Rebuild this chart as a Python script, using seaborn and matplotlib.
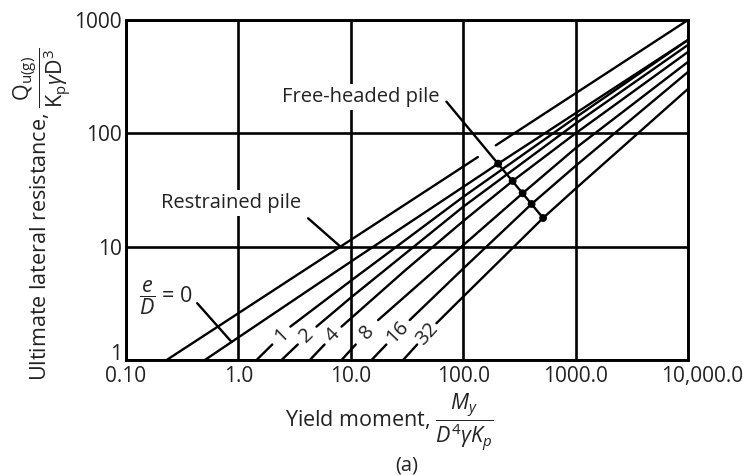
import numpy as np
import pandas as pd
import matplotlib
matplotlib.use("Agg")
import matplotlib.pyplot as plt
import matplotlib.transforms as mtransforms
import seaborn as sns

# Broms' chart: ultimate lateral resistance of long piles in granular soil

X_TICKS = [0.1, 1, 10, 100, 1000, 10000]
X_TICK_LABELS = ["0.10", "1.0", "10.0", "100.0", "1000.0", "10,000.0"]
Y_TICKS = [1, 10, 100, 1000]
Y_TICK_LABELS = ["1", "10", "100", "1000"]

# restrained (fixed-head) pile
RESTRAINED_M = [0.23, 10000]
RESTRAINED_Q = [1, 1000]
RESTRAINED_GAP_M = (135, 195)  # break where the free-headed leader passes

# free-headed piles, one curve per e/D
E_OVER_D = [0, 1, 2, 4, 8, 16, 32]
FREE_M = {
    0: [0.503, 10, 204.6, 10000],
    1: [1.45, 2.9, 10, 100, 1000, 10000],
    2: [2.42, 4.95, 10, 100, 1000, 10000],
    4: [4.32, 8.27, 30, 100, 275.4, 1000, 10000],
    8: [8.27, 17.5, 100, 338, 1000, 10000],
    16: [15.3, 33.4, 100, 406, 1000, 10000],
    32: [29.2, 57.8, 100, 514, 1000, 10000],
}
FREE_Q = {
    0: [1, 7.37, 54, 667],
    1: [1, 1.97, 5.0, 27.5, 138, 667],
    2: [1, 1.97, 3.55, 22.5, 122, 603],
    4: [1, 1.97, 6.1, 16.8, 38, 100, 523],
    8: [1, 2.25, 10.3, 29.6, 74, 427],
    16: [1, 2.25, 6.4, 23.8, 51.6, 348],
    32: [1, 2.11, 3.62, 17.9, 32.5, 246.6],
}
LABEL_GAP_Q_LOW = 1.37  # curves 1..32 break between this and their second point

# marked points on the free-headed leader
DOT_E = [0, 4, 8, 16, 32]
DOT_M = [204.6, 275.4, 338, 406, 514]

# annotation anchors (data coordinates)
RESTRAINED_TEXT_AT = (0.854, 24.3)
RESTRAINED_LEADER_FROM = (4.17, 17.8)
RESTRAINED_LEADER_Q = 10
FREE_TEXT_AT = (61.8, 210)
FREE_LEADER_FROM = (70.9, 190.5)
E0_TEXT_AT = (0.2245, 3.53)
E0_LEADER_FROM = (0.43, 3.17)
E0_LEADER_M = 0.87

FS = 14.5      # annotations and curve labels
FS_TICK = 15
FS_AXIS = 15.5
INK = "#222222"
LW = 1.7

sns.set_theme(style="white")
plt.rcParams["font.family"] = ["Open Sans", "DejaVu Sans"]
plt.rcParams["mathtext.fontset"] = "custom"
plt.rcParams["mathtext.rm"] = "Open Sans"
plt.rcParams["mathtext.it"] = "Open Sans:italic"
plt.rcParams["mathtext.bf"] = "Open Sans:bold"


def q_at(m, M, Q):
    return 10 ** np.interp(np.log10(m), np.log10(M), np.log10(Q))


def m_at(q, M, Q):
    return 10 ** np.interp(np.log10(q), np.log10(Q), np.log10(M))


def split(M, Q, m_lo, m_hi):
    lo = [(m, q) for m, q in zip(M, Q) if m < m_lo] + [(m_lo, q_at(m_lo, M, Q))]
    hi = [(m_hi, q_at(m_hi, M, Q))] + [(m, q) for m, q in zip(M, Q) if m > m_hi]
    return lo, hi


fig = plt.figure(figsize=(7.43, 4.75), dpi=100)
ax = fig.add_axes([126 / 743, 115 / 475, 562 / 743, 340 / 475])
ax.set_xscale("log")
ax.set_yscale("log")
ax.set_xlim(0.1, 10000)
ax.set_ylim(1, 1000)

# assemble line segments
rows = []
seg = 0
for part in split(RESTRAINED_M, RESTRAINED_Q, *RESTRAINED_GAP_M):
    for m, q in part:
        rows.append((seg, m, q))
    seg += 1

label_gaps = {}
for e in E_OVER_D:
    M, Q = FREE_M[e], FREE_Q[e]
    if e == 0:
        parts = [list(zip(M, Q))]
    else:
        m_lo = m_at(LABEL_GAP_Q_LOW, M, Q)
        parts = split(M, Q, m_lo, M[1])
        label_gaps[e] = ((m_lo, LABEL_GAP_Q_LOW), (M[1], Q[1]))
    for part in parts:
        for m, q in part:
            rows.append((seg, m, q))
        seg += 1

lines = pd.DataFrame(rows, columns=["seg", "M", "Q"])
sns.lineplot(data=lines, x="M", y="Q", units="seg", estimator=None, sort=False,
             color="black", linewidth=LW, ax=ax, legend=False, zorder=3)

dots = pd.DataFrame({
    "M": DOT_M,
    "Q": [q_at(m, FREE_M[e], FREE_Q[e]) for e, m in zip(DOT_E, DOT_M)],
})
sns.scatterplot(data=dots, x="M", y="Q", color="black", s=32, edgecolor="none",
                ax=ax, zorder=4)

# grid and frame
ax.set_axisbelow(True)
ax.grid(True, which="major", color="black", linewidth=1.9)
ax.minorticks_off()
for s in ax.spines.values():
    s.set_color("black")
    s.set_linewidth(2.1)

ax.set_xticks(X_TICKS)
ax.set_xticklabels(X_TICK_LABELS)
ax.set_yticks(Y_TICKS)
ax.set_yticklabels(Y_TICK_LABELS)
ax.tick_params(axis="both", length=0, labelsize=FS_TICK, colors=INK)
ax.tick_params(axis="x", pad=4)
ax.tick_params(axis="y", pad=3)

lab = ax.get_yticklabels()[0]
lab.set_transform(lab.get_transform() + mtransforms.ScaledTranslation(0, 8 / 100, fig.dpi_scale_trans))
lab = ax.get_xticklabels()[-1]
lab.set_transform(lab.get_transform() + mtransforms.ScaledTranslation(14 / 100, 0, fig.dpi_scale_trans))

ax.set_xlabel(r"Yield moment, $\dfrac{M_y}{D^4\gamma K_p}$", fontsize=FS_AXIS, color=INK)
ax.xaxis.set_label_coords(0.469, -0.094)
ax.set_ylabel(r"Ultimate lateral resistance, $\dfrac{\mathrm{Q}_{\mathrm{u(g)}}}{\mathrm{K}_{\mathrm{p}}\gamma\mathrm{D}^{3}}$",
              fontsize=FS_AXIS, color=INK)
ax.yaxis.set_label_coords(-0.094, 0.43)
fig.text(407 / 743, 1 - 466 / 475, "(a)", ha="center", va="center", fontsize=FS, color=INK)

# curve labels sitting in the gaps
for e, (p_lo, p_hi) in label_gaps.items():
    d_lo = ax.transData.transform(p_lo)
    d_hi = ax.transData.transform(p_hi)
    mid = ax.transData.inverted().transform((d_lo + d_hi) / 2)
    ang = np.degrees(np.arctan2(d_hi[1] - d_lo[1], d_hi[0] - d_lo[0]))
    ax.text(mid[0], mid[1], str(e), rotation=ang, rotation_mode="anchor",
            ha="center", va="center", fontsize=FS, color=INK, zorder=5)

leader = dict(arrowstyle="-", color="black", lw=LW, shrinkA=0, shrinkB=0)

ax.text(*RESTRAINED_TEXT_AT, "Restrained pile", ha="center", va="center", fontsize=FS,
        color=INK, zorder=5, bbox=dict(fc="white", ec="none", pad=2))
ax.annotate("", xy=(m_at(RESTRAINED_LEADER_Q, RESTRAINED_M, RESTRAINED_Q), RESTRAINED_LEADER_Q),
            xytext=RESTRAINED_LEADER_FROM, arrowprops=leader, zorder=5)

ax.text(*FREE_TEXT_AT, "Free-headed pile", ha="right", va="center", fontsize=FS,
        color=INK, zorder=5, bbox=dict(fc="white", ec="none", pad=2))
ax.annotate("", xy=(DOT_M[-1], dots["Q"].iloc[-1]), xytext=FREE_LEADER_FROM,
            arrowprops=leader, zorder=5)

ax.text(*E0_TEXT_AT, r"$\dfrac{e}{D}$ = $\mathit{0}$", ha="center", va="center",
        fontsize=15.5, color=INK, zorder=5)
ax.annotate("", xy=(E0_LEADER_M, q_at(E0_LEADER_M, FREE_M[0], FREE_Q[0])),
            xytext=E0_LEADER_FROM, arrowprops=leader, zorder=5)

fig.savefig("out.png", dpi=100)
